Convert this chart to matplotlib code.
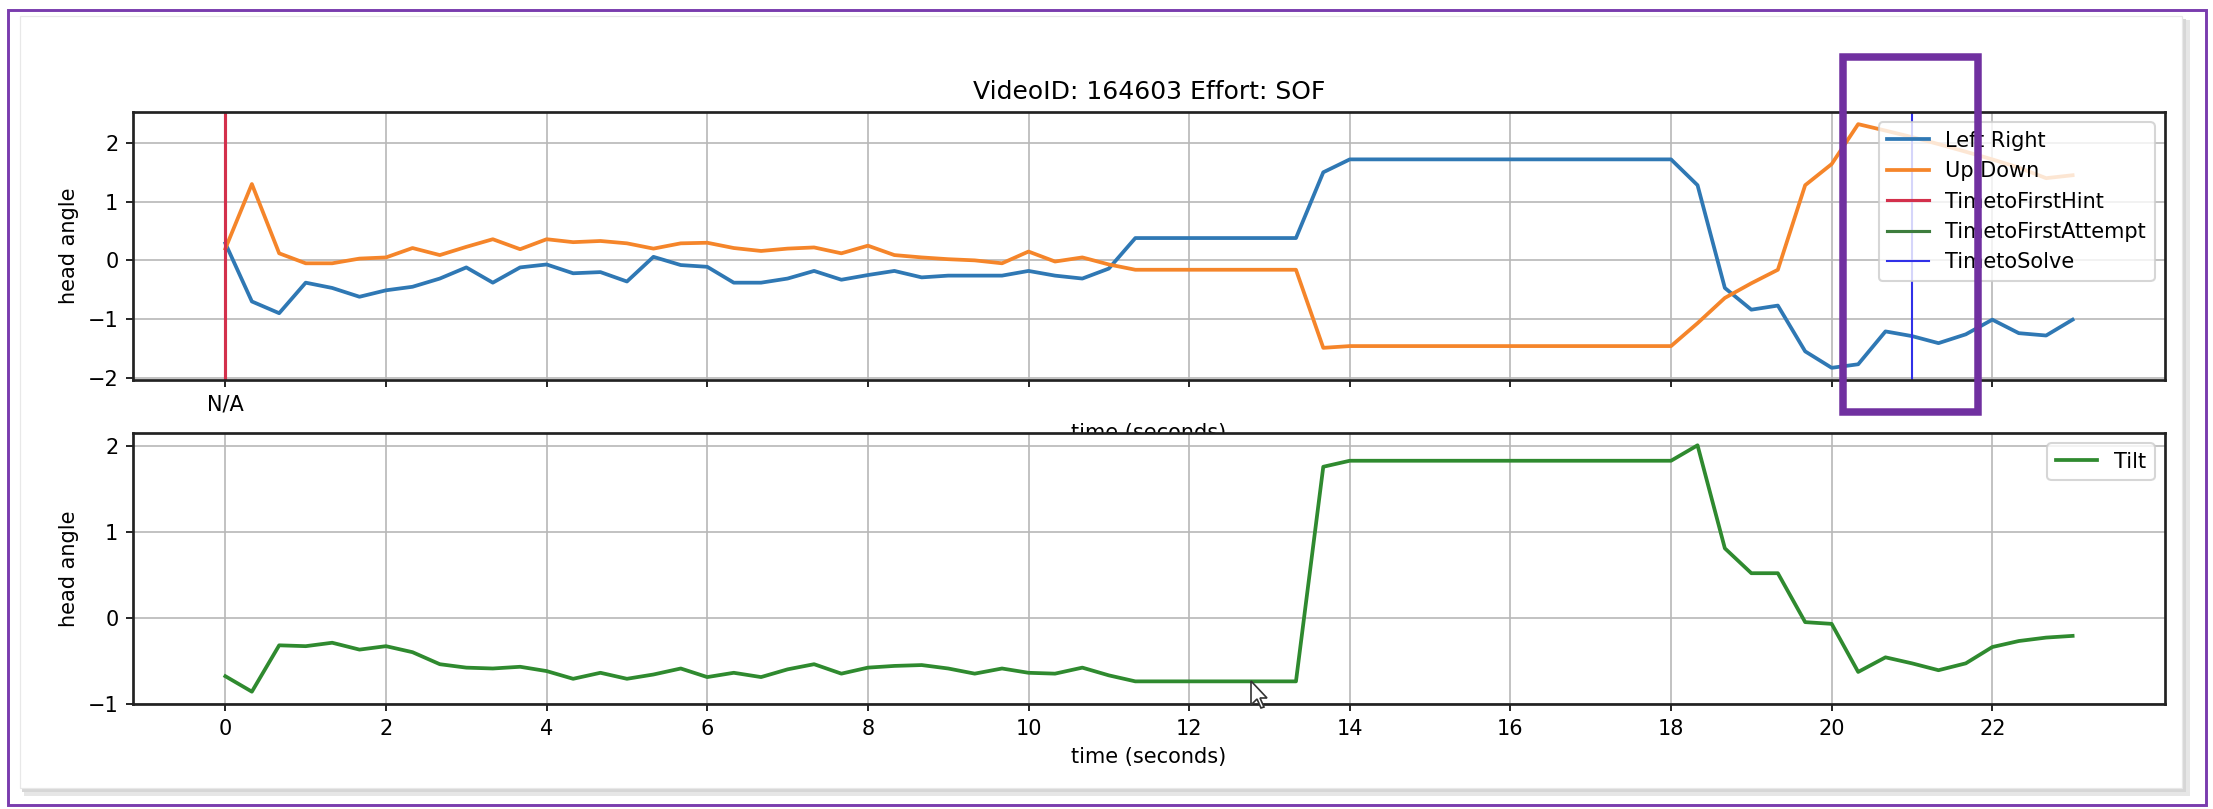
# head angle plot (screenshot look): Left Right / Up Down on top, Tilt below
import matplotlib.pyplot as plt
from matplotlib.patches import Rectangle, Polygon

# sample times (s)
time_s = [0.0, 0.33, 0.67, 1.0, 1.33, 1.67, 2.0, 2.33, 2.67, 3.0,
          3.33, 3.67, 4.0, 4.33, 4.67, 5.0, 5.33, 5.67, 6.0, 6.33,
          6.67, 7.0, 7.33, 7.67, 8.0, 8.33, 8.67, 9.0, 9.33, 9.67,
          10.0, 10.33, 10.67, 11.0, 11.33, 11.67, 12.0, 12.33, 12.67, 13.0,
          13.33, 13.67, 14.0, 14.33, 14.67, 15.0, 15.33, 15.67, 16.0, 16.33,
          16.67, 17.0, 17.33, 17.67, 18.0, 18.33, 18.67, 19.0, 19.33, 19.67,
          20.0, 20.33, 20.67, 21.0, 21.33, 21.67, 22.0, 22.33, 22.67, 23.0]

left_right = [0.29, -0.70, -0.90, -0.38, -0.47, -0.62, -0.51, -0.45, -0.31, -0.12,
              -0.38, -0.12, -0.07, -0.22, -0.20, -0.36, 0.06, -0.08, -0.11, -0.38,
              -0.38, -0.31, -0.18, -0.33, -0.25, -0.18, -0.29, -0.26, -0.26, -0.26,
              -0.18, -0.26, -0.31, -0.14, 0.38, 0.38, 0.38, 0.38, 0.38, 0.38,
              0.38, 1.50, 1.72, 1.72, 1.72, 1.72, 1.72, 1.72, 1.72, 1.72,
              1.72, 1.72, 1.72, 1.72, 1.72, 1.28, -0.47, -0.84, -0.77, -1.55,
              -1.83, -1.77, -1.21, -1.29, -1.41, -1.26, -1.01, -1.24, -1.28, -1.01]

up_down = [0.20, 1.30, 0.12, -0.05, -0.05, 0.03, 0.05, 0.21, 0.09, 0.23,
           0.36, 0.19, 0.36, 0.31, 0.33, 0.29, 0.20, 0.29, 0.30, 0.21,
           0.16, 0.20, 0.22, 0.12, 0.25, 0.09, 0.05, 0.02, 0.00, -0.05,
           0.15, -0.02, 0.05, -0.07, -0.16, -0.16, -0.16, -0.16, -0.16, -0.16,
           -0.16, -1.49, -1.46, -1.46, -1.46, -1.46, -1.46, -1.46, -1.46, -1.46,
           -1.46, -1.46, -1.46, -1.46, -1.46, -1.07, -0.64, -0.39, -0.16, 1.28,
           1.64, 2.32, 2.21, 2.10, 1.98, 1.85, 1.72, 1.58, 1.40, 1.45]

tilt = [-0.68, -0.86, -0.32, -0.33, -0.29, -0.37, -0.33, -0.40, -0.54, -0.58,
        -0.59, -0.57, -0.62, -0.71, -0.64, -0.71, -0.66, -0.59, -0.69, -0.64,
        -0.69, -0.60, -0.54, -0.65, -0.58, -0.56, -0.55, -0.59, -0.65, -0.59,
        -0.64, -0.65, -0.58, -0.67, -0.74, -0.74, -0.74, -0.74, -0.74, -0.74,
        -0.74, 1.76, 1.83, 1.83, 1.83, 1.83, 1.83, 1.83, 1.83, 1.83,
        1.83, 1.83, 1.83, 1.83, 1.83, 2.01, 0.81, 0.52, 0.52, -0.05,
        -0.07, -0.63, -0.46, -0.53, -0.61, -0.53, -0.34, -0.27, -0.23, -0.21]

time_to_first_hint = 0.0
time_to_first_attempt = None   # N/A
time_to_solve = 21.0

top_xticks = [0, 2, 4, 6, 8, 10, 12, 14, 16, 18, 20, 22]
top_xticklabels = ['N/A', '', '', '', '', '', '', '', '', '', '', '']

W, H = 2213, 809
fig = plt.figure(figsize=(W / 150, H / 150), dpi=150, facecolor='white')


def px(x, y):
    # pixel position (from top-left) -> figure fraction
    return x / W, 1 - y / H


# screenshot card + soft shadow + purple frame
fig.patches.append(Rectangle(px(24, 796), 2166 / W, 776 / H, transform=fig.transFigure,
                             facecolor='#e6e6e6', edgecolor='none', zorder=-4))
fig.patches.append(Rectangle(px(22, 792), 2164 / W, 773 / H, transform=fig.transFigure,
                             facecolor='#d6d6d6', edgecolor='none', zorder=-3))
fig.patches.append(Rectangle(px(20, 788), 2162 / W, 772 / H, transform=fig.transFigure,
                             facecolor='white', edgecolor='#e8e8e8', lw=0.6, zorder=-2))
fig.patches.append(Rectangle(px(8, 805), 2198 / W, 795 / H, transform=fig.transFigure,
                             facecolor='none', edgecolor='#7a3cae', lw=1.4, zorder=-1))

ax1 = fig.add_axes([0.0601, 0.5303, 0.9182, 0.3313])
ax2 = fig.add_axes([0.0601, 0.1298, 0.9182, 0.3350])

# top panel
ax1.plot(time_s, left_right, color='#2f78b4', lw=1.8, label='Left Right')
ax1.plot(time_s, up_down, color='#f5852a', lw=1.8, label='Up Down')
ax1.axvline(time_to_first_hint, color='#d3304c', label='TimetoFirstHint')
if time_to_first_attempt is None:
    ax1.plot([], [], color='#3d7d3d', label='TimetoFirstAttempt')
else:
    ax1.axvline(time_to_first_attempt, color='#3d7d3d', label='TimetoFirstAttempt')
ax1.axvline(time_to_solve, color='#3030e8', lw=1.0, label='TimetoSolve')
ax1.set_xticks(top_xticks)
ax1.set_xticklabels(top_xticklabels)
ax1.set_title('VideoID: 164603 Effort: SOF')
ax1.set_ylabel('head angle')
ax1.set_xlabel('time (seconds)')
ax1.grid(True, color='#b8b8b8')
ax1.legend(loc='upper right')

# bottom panel
ax2.plot(time_s, tilt, color='#2f8a2f', lw=1.8, label='Tilt')
ax2.set_xticks(top_xticks)
ax2.set_ylabel('head angle')
ax2.set_xlabel('time (seconds)')
ax2.grid(True, color='#b8b8b8')
ax2.legend(loc='upper right')

for ax in (ax1, ax2):
    ax.set_xlim(-1.15, 24.15)
    for s in ax.spines.values():
        s.set_linewidth(1.3)
        s.set_color('#222222')

# highlight box drawn on the screenshot
fig.patches.append(Rectangle(px(1843, 412), 135 / W, 355 / H, transform=fig.transFigure,
                             facecolor='none', edgecolor='#7030a0', lw=3.6, zorder=5))

# mouse pointer
tip_x, tip_y = 1251, 681
shape = [(0, 0), (0, 24), (6, 18), (10, 27), (13, 26), (9, 17), (16, 17)]
fig.patches.append(Polygon([px(tip_x + dx, tip_y + dy) for dx, dy in shape], closed=True,
                           transform=fig.transFigure, facecolor='white',
                           edgecolor='#333333', lw=0.8, zorder=6))

fig.savefig('out.png', dpi=150, facecolor='white')
